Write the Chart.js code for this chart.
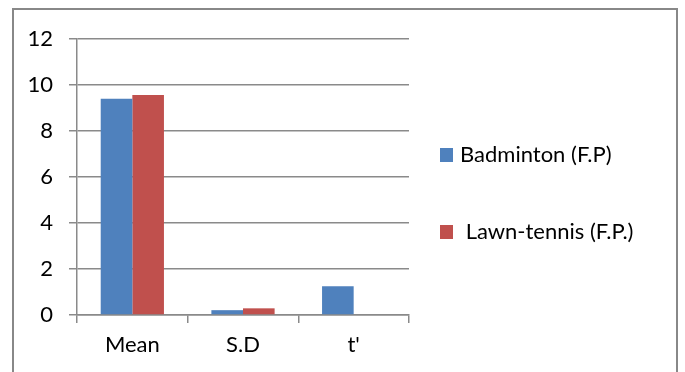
<!DOCTYPE html>
<html lang="en">
  <head>
    <meta charset="UTF-8" />
    <script src="https://cdn.jsdelivr.net/npm/chart.js"></script>
    <style>
      html, body { margin: 0; padding: 0; background: #fff; overflow: hidden; }
      .frame {
        position: absolute; left: 12px; top: 8px; width: 662px; height: 420px;
        border: 2px solid #888;
      }
      .wrap { position: absolute; left: 0; top: 0; width: 685px; height: 372px; }
    </style>
    <title>Badminton vs Lawn-tennis</title>
  </head>
  <body>
    <div class="frame"></div>
    <div class="wrap"><canvas id="myChart" width="685" height="372"></canvas></div>

    <script>
      const categories = ['Mean', 'S.D', "t'"];
      const badminton = [9.4, 0.21, 1.25];
      const lawnTennis = [9.56, 0.29, null];
      const seriesNames = ['Badminton (F.P)', ' Lawn-tennis (F.P.)'];
      const yTicks = [0, 2, 4, 6, 8, 10, 12];

      const fontFamily = 'Lato, "Open Sans", sans-serif';
      const gridColor = '#8a8a8a';

      // legend drawn by hand so the spacing matches the original
      const sideLegend = {
        id: 'sideLegend',
        afterDraw(chart) {
          const ctx = chart.ctx;
          const rows = [155, 232];
          ctx.save();
          ctx.font = '22px ' + fontFamily;
          ctx.textBaseline = 'middle';
          chart.data.datasets.forEach((ds, i) => {
            ctx.fillStyle = ds.backgroundColor;
            ctx.fillRect(440, rows[i] - 7, 13, 14);
            ctx.fillStyle = '#000';
            ctx.fillText(ds.label, 460, rows[i]);
          });
          ctx.restore();
        },
      };

      new Chart(document.getElementById('myChart'), {
        type: 'bar',
        data: {
          labels: categories,
          datasets: [
            {
              label: seriesNames[0],
              data: badminton,
              backgroundColor: '#4F81BD',
              categoryPercentage: 2 / 3.5,
              barPercentage: 1,
            },
            {
              label: seriesNames[1],
              data: lawnTennis,
              backgroundColor: '#C0504D',
              categoryPercentage: 2 / 3.5,
              barPercentage: 1,
            },
          ],
        },
        options: {
          responsive: false,
          animation: false,
          layout: { padding: { left: 0, top: 39, right: 276, bottom: 0 } },
          plugins: {
            legend: { display: false },
            tooltip: { enabled: false },
          },
          scales: {
            x: {
              grid: {
                display: true,
                drawOnChartArea: false,
                drawTicks: true,
                tickLength: 8,
                color: gridColor,
                lineWidth: 1.5,
              },
              border: { display: true, color: gridColor, width: 1.5 },
              ticks: {
                color: '#000',
                font: { family: fontFamily, size: 22 },
                padding: 9,
              },
              afterFit: (s) => { s.height = 372 - 315; },
            },
            y: {
              min: 0,
              max: 12,
              afterBuildTicks: (s) => { s.ticks = yTicks.map((v) => ({ value: v })); },
              grid: {
                color: gridColor,
                lineWidth: 1.5,
                tickLength: 8,
              },
              border: { display: true, color: gridColor, width: 1.5 },
              ticks: {
                color: '#000',
                font: { family: fontFamily, size: 22 },
                padding: 16,
              },
              afterFit: (s) => { s.width = 77; },
            },
          },
        },
        plugins: [sideLegend],
      });
    </script>
  </body>
</html>
